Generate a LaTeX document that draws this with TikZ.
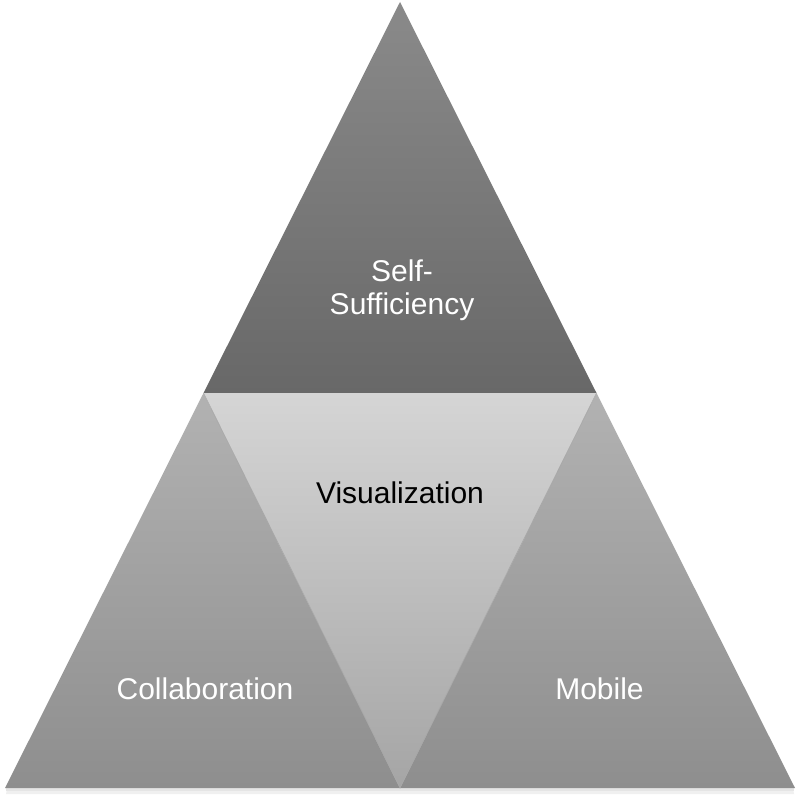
\documentclass[tikz,border=0pt]{standalone}
\usepackage{fontspec}
\setmainfont{Liberation Sans}
\tikzset{
  lbl/.style={anchor=base, inner sep=0pt, font=\fontsize{30}{33}\selectfont},
  wlbl/.style={lbl, text=white},
  sh/.style={fill=black!12, draw=none}
}
\begin{document}
\begin{tikzpicture}[x=1pt,y=-1pt]
\useasboundingbox (0,0) rectangle (800,800);
\fill[white] (0,0) rectangle (800,800);
\coordinate (A) at (400,2);
\coordinate (BL) at (5,788);
\coordinate (BR) at (795,788);
\coordinate (ML) at (203.5,393);
\coordinate (MR) at (596.5,393);
\coordinate (MB) at (400,788);
% soft shadow
\fill[black!6] (7,789) -- (793,789) -- (794,794) -- (6,794) -- cycle;
\fill[black!10] (6,788) -- (794,788) -- (794,791) -- (6,791) -- cycle;
% top triangle
\shade[top color={rgb,255:red,138;green,138;blue,138}, bottom color={rgb,255:red,104;green,104;blue,104}] (A) -- (MR) -- (ML) -- cycle;
% left triangle
\shade[top color={rgb,255:red,178;green,178;blue,178}, bottom color={rgb,255:red,142;green,142;blue,142}] (ML) -- (MB) -- (BL) -- cycle;
% right triangle
\shade[top color={rgb,255:red,178;green,178;blue,178}, bottom color={rgb,255:red,142;green,142;blue,142}] (MR) -- (BR) -- (MB) -- cycle;
% middle inverted triangle
\shade[top color={rgb,255:red,213;green,213;blue,213}, bottom color={rgb,255:red,165;green,165;blue,165}] (ML) -- (MR) -- (MB) -- cycle;
\draw[black!35, line width=0.6pt] (ML) -- (MB) -- (MR);
% labels
\node[wlbl] (self1) at (402,281) {Self-};
\node[wlbl] (self2) at (402,314) {Sufficiency};
\node[lbl, text=black] (vis) at (400,503) {Visualization};
\node[wlbl] (col) at (205,699) {Collaboration};
\node[wlbl] (mob) at (599.5,699) {Mobile};
\end{tikzpicture}
\end{document}
